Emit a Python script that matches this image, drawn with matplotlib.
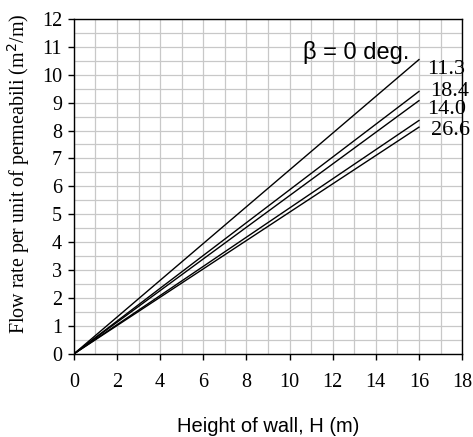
"""
Flow rate vs wall height for several slope angles
"""
from matplotlib import pyplot as plt, ticker

heights = [0, 16]
flow_b00 = [0, 10.54]
flow_b11 = [0, 9.40]
flow_b14 = [0, 9.07]
flow_b18 = [0, 8.36]
flow_b26 = [0, 8.12]

label_text = ['\u03b2 = 0 deg.', '11.3', '18.4', '14.0', '26.6']
label_x = [10.62, 16.37, 16.5, 16.37, 16.56]
label_y = [10.79, 10.18, 9.41, 8.76, 7.99]

fig = plt.figure(figsize=(4.73, 4.37), dpi=100)
ax = fig.add_axes([0.156, 0.19, 0.821, 0.767])

for ys in [flow_b00, flow_b11, flow_b14, flow_b18, flow_b26]:
    ax.plot(heights, ys, color='black', lw=1.0, zorder=3)

ax.set_xlim(0, 18)
ax.set_ylim(0, 12)
ax.xaxis.set_major_locator(ticker.MultipleLocator(2))
ax.xaxis.set_minor_locator(ticker.MultipleLocator(1))
ax.yaxis.set_major_locator(ticker.MultipleLocator(1))
ax.yaxis.set_minor_locator(ticker.MultipleLocator(0.5))
ax.grid(which='both', color='#c8c8c8', lw=0.9, zorder=0)
ax.tick_params(which='major', direction='out', length=4, width=1)
ax.tick_params(axis='x', pad=10)
ax.tick_params(axis='y', pad=4.5)
ax.tick_params(which='minor', length=0)
for s in ax.spines.values():
    s.set_linewidth(1.0)

for lab in ax.get_xticklabels() + ax.get_yticklabels():
    lab.set_fontfamily('Liberation Serif')
    lab.set_fontsize(14.5)

ax.set_xlabel('Height of wall, H (m)', family='Liberation Sans', fontsize=14.5, labelpad=18)
ax.set_ylabel('Flow rate per unit of permeabili (m$^2$/m)', family='Liberation Serif',
              fontsize=14.4)
ax.yaxis.set_label_coords(-0.108, 0.537)

for i, t in enumerate(label_text):
    fam = 'Liberation Sans' if i == 0 else 'Liberation Serif'
    size = 17 if i == 0 else 16
    ax.text(label_x[i], label_y[i], t, family=fam, fontsize=size, va='center', ha='left',
            clip_on=False, zorder=4)

plt.savefig('out.png')
